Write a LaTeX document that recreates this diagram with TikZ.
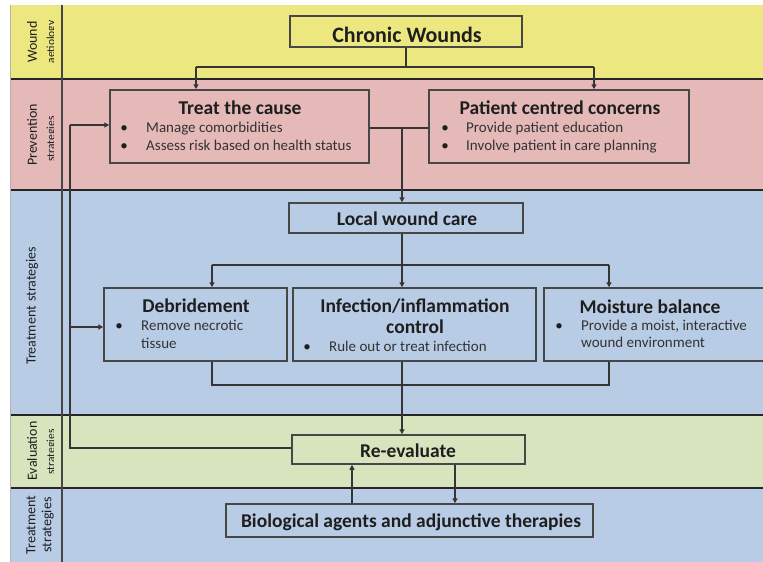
\documentclass[tikz,border=0pt]{standalone}
\usepackage{fontspec}
\setmainfont{Carlito}
\usetikzlibrary{arrows.meta}
\definecolor{yel}{HTML}{ECE87F}
\definecolor{pnk}{HTML}{E6B9B9}
\definecolor{blu}{HTML}{B9CCE5}
\definecolor{grn}{HTML}{D7E4BD}
\definecolor{boxline}{HTML}{474747}
\definecolor{txt}{HTML}{1E1E1E}
\definecolor{btxt}{HTML}{333333}
\tikzset{
  box/.style={draw=boxline, line width=1.5pt, inner sep=0pt},
  conn/.style={draw=txt!90, line width=1.3pt},
  arr/.style={conn, -{Triangle[length=5pt,width=5pt]}},
  ttl/.style={font=\bfseries\fontsize{19.5}{22}\selectfont, text=txt, inner sep=0pt, text height=13.5pt, text depth=4pt, yshift=-2.5pt},
  bul/.style={font=\fontsize{15}{17}\selectfont, text=btxt, inner sep=0pt, text height=10.5pt, text depth=3.5pt, anchor=west, yshift=-1pt},
  dot/.style={font=\fontsize{15}{17}\selectfont, text=txt, inner sep=0pt, yshift=-1pt},
  lab/.style={font=\fontsize{14}{16}\selectfont, text=txt, inner sep=0pt, rotate=90},
  sublab/.style={font=\fontsize{11.5}{12}\selectfont, text=txt, inner sep=0pt, rotate=90, anchor=base},
  band/.style={line width=2pt, draw=black!85}
}
\begin{document}
\begin{tikzpicture}[x=1pt,y=-1pt]
\useasboundingbox (0,0) rectangle (763,562);
% bands
\fill[white] (0,0) rectangle (763,562);
\fill[yel] (10,5) rectangle (763,79);
\fill[pnk] (10,79) rectangle (763,190);
\fill[blu] (10,190) rectangle (763,415);
\fill[grn] (10,415) rectangle (763,488);
\fill[blu] (10,488) rectangle (763,562);
\draw[band] (10,79) -- (763,79);
\draw[band] (10,190) -- (763,190);
\draw[band] (10,415) -- (763,415);
\draw[band] (10,488) -- (763,488);
\draw[line width=1.5pt, draw=boxline] (62,5) -- (62,562);
\draw[line width=0.6pt, draw=black!30] (10,5) -- (10,562);
% left labels
\node[lab] (l1) at (32,42) {Wound};
\node[lab] (l2) at (32,135) {Prevention};
\node[lab] (l3) at (32,306) {Treatment\hspace{4pt}strategies};
\node[lab] (l4) at (32,451) {Evaluation};
\node[lab, align=center] (l5) at (40,525) {Treatment\\[0pt]strategies};
\begin{scope}
\clip (40,5) rectangle (53.5,562);
\node[sublab] (s1) at (54.5,42) {aetiology};
\node[sublab] (s2) at (54.5,139) {strategies};
\node[sublab] (s4) at (54.5,452) {strategies};
\end{scope}
% boxes
\node[box, minimum width=232pt, minimum height=31pt] (cw) at (406,31.5) {};
\node[box, minimum width=259pt, minimum height=73pt] (treat) at (239.5,126.5) {};
\node[box, minimum width=260pt, minimum height=73pt] (pat) at (559,126.5) {};
\node[box, minimum width=234pt, minimum height=30pt] (local) at (406,218) {};
\node[box, minimum width=183pt, minimum height=73pt] (debr) at (195.5,324.5) {};
\node[box, minimum width=243pt, minimum height=73pt] (inf) at (414.5,324.5) {};
\node[box, minimum width=224pt, minimum height=73pt] (moist) at (656,324.5) {};
\node[box, minimum width=233pt, minimum height=29pt] (reev) at (408.5,449.5) {};
\node[box, minimum width=367pt, minimum height=33pt] (bio) at (409.5,520.5) {};
% texts
\node[ttl, font=\bfseries\fontsize{22}{25}\selectfont, text height=15pt] (tcw) at (407,34) {Chronic Wounds};
\node[ttl] (ttreat) at (240,107) {Treat the cause};
\node[dot] (d1) at (124,128) {•};
\node[bul] (b1) at (146,128) {Manage comorbidities};
\node[dot] (d2) at (124,146) {•};
\node[bul] (b2) at (146,146) {Assess risk based on health status};
\node[ttl] (tpat) at (560,107) {Patient centred concerns};
\node[dot] (d3) at (445,128) {•};
\node[bul] (b3) at (466,128) {Provide patient education};
\node[dot] (d4) at (445,146) {•};
\node[bul] (b4) at (466,146) {Involve patient in care planning};
\node[ttl] (tlocal) at (407,218) {Local wound care};
\node[ttl] (tdebr) at (196,305) {Debridement};
\node[dot] (d5) at (119,326) {•};
\node[bul] (b5) at (141,326) {Remove necrotic};
\node[bul] (b5b) at (141,344) {tissue};
\node[ttl] (tinf) at (415,305) {Infection/inflammation};
\node[ttl] (tinf2) at (415,326) {control};
\node[dot] (d6) at (307,347) {•};
\node[bul] (b6) at (329,347) {Rule out or treat infection};
\node[ttl] (tmoist) at (650,306) {Moisture balance};
\node[dot] (d7) at (559,326) {•};
\node[bul] (b7) at (581,326) {Provide a moist, interactive};
\node[bul] (b7b) at (581,343) {wound environment};
\node[ttl] (treev) at (408,450) {Re-evaluate};
\node[ttl] (tbio) at (411,520) {Biological agents and adjunctive therapies};
% connectors
\coordinate (j1) at (406,67);
\coordinate (j1l) at (196,67);
\coordinate (j1r) at (594,67);
\draw[conn] (cw.south) -- (j1);
\draw[conn] (j1l) -- (j1r);
\draw[arr] (j1l) -- (treat.north -| j1l);
\draw[arr] (j1r) -- (pat.north -| j1r);
\coordinate (j2) at (402,128);
\draw[conn] (treat.east |- j2) -- (pat.west |- j2);
\draw[arr] (j2) -- (local.north -| j2);
\coordinate (j3) at (402,265);
\coordinate (j3l) at (212,265);
\coordinate (j3r) at (609,265);
\draw[arr] (local.south -| j3) -- (inf.north -| j3);
\draw[conn] (j3l) -- (j3r);
\draw[arr] (j3l) -- (debr.north -| j3l);
\draw[arr] (j3r) -- (moist.north -| j3r);
\coordinate (j4l) at (212,385);
\coordinate (j4r) at (609,385);
\draw[conn] (debr.south -| j4l) -- (j4l) -- (j4r) -- (moist.south -| j4r);
\draw[arr] (inf.south -| j3) -- (reev.north -| j3);
\coordinate (fb1) at (70,448);
\coordinate (fb2) at (70,125);
\coordinate (fb3) at (70,327);
\draw[conn] (reev.west |- fb1) -- (fb1) -- (fb2);
\draw[arr] (fb2) -- (treat.west |- fb2);
\draw[arr] (fb3) -- (debr.west |- fb3);
\coordinate (r1) at (455,480);
\coordinate (r2) at (352,480);
\draw[arr] (reev.south -| r1) -- (bio.north -| r1);
\draw[arr] (bio.north -| r2) -- (reev.south -| r2);
\end{tikzpicture}
\end{document}
